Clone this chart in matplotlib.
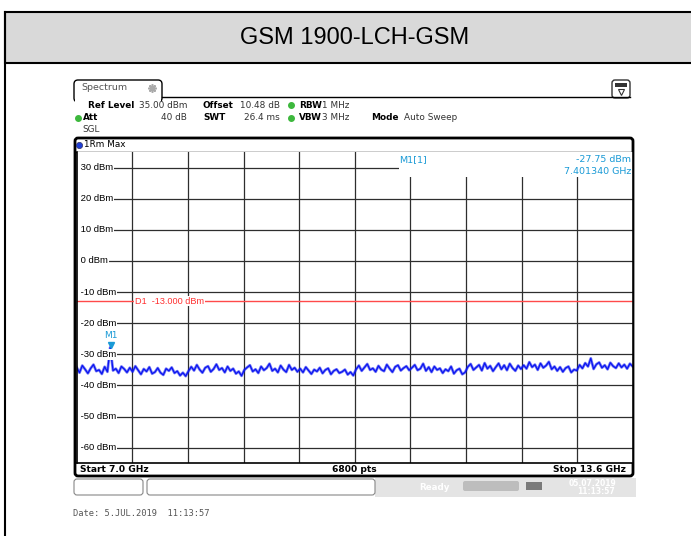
import numpy as np
import matplotlib.pyplot as plt
from matplotlib.patches import Rectangle, FancyBboxPatch

# ---- data ----
title = "GSM 1900-LCH-GSM"
f_start, f_stop = 7.0, 13.6          # GHz
ref_level = 35.0                      # dBm (top of screen)
bottom_level = -65.0
y_ticks = [30, 20, 10, 0, -10, -20, -30, -40, -50, -60]
limit_d1 = -13.0
marker_freq = 7.401340
marker_level = -27.75

# max-hold trace, 200 readings across the 10 divisions
trace_div1 = [-34.2, -35.9, -33.6, -34.8, -36.1, -34.5, -33.3, -35.4, -35.0, -36.3,
              -34.0, -35.6, -27.75, -35.2, -34.6, -36.0, -33.9, -34.7, -35.8, -34.3]
trace_div2 = [-35.6, -33.8, -35.1, -36.4, -34.7, -35.5, -34.1, -36.2, -35.7, -34.4,
              -35.9, -36.6, -34.6, -35.3, -34.2, -36.0, -35.4, -36.8, -35.9, -37.0]
trace_div3 = [-35.4, -34.0, -35.2, -33.4, -34.9, -35.9, -34.3, -33.8, -35.6, -34.7,
              -33.2, -35.0, -34.4, -35.8, -33.9, -35.3, -34.6, -36.2, -35.5, -36.9]
trace_div4 = [-35.0, -34.2, -33.5, -35.5, -34.8, -36.0, -33.9, -35.1, -34.4, -33.0,
              -35.3, -34.6, -35.8, -33.6, -34.9, -35.7, -33.4, -35.0, -34.3, -35.6]
trace_div5 = [-34.6, -35.8, -34.1, -35.2, -36.3, -34.9, -35.5, -34.3, -36.1, -35.0,
              -34.5, -36.4, -35.3, -34.8, -36.0, -35.6, -34.9, -36.5, -35.7, -36.8]
trace_div6 = [-34.8, -33.6, -35.3, -34.2, -33.1, -35.0, -34.5, -35.6, -33.7, -34.9,
              -35.4, -33.3, -34.6, -35.7, -34.0, -33.5, -35.2, -34.4, -33.8, -35.1]
trace_div7 = [-34.3, -33.4, -35.1, -34.6, -33.0, -35.3, -34.1, -35.7, -33.9, -35.0,
              -34.5, -36.0, -34.8, -35.4, -33.9, -36.2, -35.1, -34.6, -36.4, -35.8]
trace_div8 = [-34.0, -33.1, -35.0, -34.2, -33.4, -35.2, -32.8, -34.6, -33.7, -35.4,
              -34.1, -32.9, -34.8, -33.5, -35.1, -33.0, -34.4, -35.3, -33.6, -34.7]
trace_div9 = [-33.5, -34.6, -32.5, -34.1, -33.3, -35.0, -32.9, -34.3, -33.6, -32.4,
              -34.8, -33.9, -35.3, -34.1, -35.6, -34.4, -33.9, -35.8, -34.9, -35.2]
trace_div10 = [-33.4, -34.5, -32.8, -33.9, -31.3, -34.7, -33.2, -32.6, -34.3, -33.5,
               -34.8, -32.7, -33.8, -34.4, -32.9, -34.2, -33.3, -34.6, -33.0, -33.9]

trace = np.array(trace_div1 + trace_div2 + trace_div3 + trace_div4 + trace_div5 +
                 trace_div6 + trace_div7 + trace_div8 + trace_div9 + trace_div10)
freqs = np.linspace(f_start, f_stop, len(trace))

W, H = 691, 536
BLUE_TXT = '#1a9ad6'
TRACE = '#0a14f0'

fig = plt.figure(figsize=(W / 100, H / 100), dpi=100)

# background canvas in pixel coordinates
bg = fig.add_axes([0, 0, 1, 1])
bg.set_xlim(0, W)
bg.set_ylim(H, 0)
bg.axis('off')

# title band
bg.add_patch(Rectangle((5, 12), W, 51, facecolor='#d9d9d9', edgecolor='black', lw=1.5))
bg.plot([5, 5], [12, H], color='black', lw=1.5)
bg.text(355, 38, title, ha='center', va='center', fontsize=17, family='Liberation Sans')

# spectrum tab + header line
bg.add_patch(FancyBboxPatch((74, 80), 88, 22, boxstyle='round,pad=0,rounding_size=4',
                            facecolor='white', edgecolor='black', lw=1))
bg.add_patch(Rectangle((75, 97), 86, 6, facecolor='white', edgecolor='none'))
bg.plot([162, 630], [97, 97], color='black', lw=1)
bg.text(81, 88, 'Spectrum', fontsize=6.8, color='#555555', va='center')
bg.plot([152], [88], marker=(8, 2, 0), ms=6, color='#aaaaaa', mew=1.2)
bg.add_patch(FancyBboxPatch((612, 80), 18, 18, boxstyle='round,pad=0,rounding_size=3',
                            facecolor='white', edgecolor='#333333', lw=1))
bg.add_patch(Rectangle((615, 83), 12, 4, facecolor='#333333', edgecolor='none'))
bg.plot([621], [92], marker='v', ms=5, mfc='white', mec='#333333', mew=0.8)

# setting rows
fs = 6.4
bold = dict(fontsize=fs, fontweight='bold', va='center')
norm = dict(fontsize=fs, va='center', color='#333333')
bg.text(88, 105, 'Ref Level', **bold)
bg.text(139, 105, '35.00 dBm', **norm)
bg.text(203, 105, 'Offset', **bold)
bg.text(240, 105, '10.48 dB', **norm)
bg.text(299, 105, 'RBW', **bold)
bg.text(322, 105, '1 MHz', **norm)
bg.text(83, 118, 'Att', **bold)
bg.text(187, 118, '40 dB', ha='right', **norm)
bg.text(203, 118, 'SWT', **bold)
bg.text(244, 118, '26.4 ms', **norm)
bg.text(299, 118, 'VBW', **bold)
bg.text(322, 118, '3 MHz', **norm)
bg.text(371, 118, 'Mode', **bold)
bg.text(404, 118, 'Auto Sweep', **norm)
bg.text(82, 130, 'SGL', **norm)
for dx, dy in [(291, 105), (78, 118), (291, 118)]:
    bg.plot([dx], [dy], 'o', ms=4, color='#3db83d')

# diagram frame
bg.add_patch(FancyBboxPatch((75, 138), 558, 338, boxstyle='round,pad=0,rounding_size=3',
                            facecolor='white', edgecolor='black', lw=2))
bg.plot([76, 632], [152, 152], color='black', lw=1)
bg.plot([79], [144.5], 'o', ms=4.5, color='#1f3fd6', mec='#333366', mew=0.5)
bg.text(84, 144.5, '1Rm Max', fontsize=6.4, va='center')
bg.text(80, 470, 'Start 7.0 GHz', fontsize=6.6, fontweight='bold', va='center')
bg.text(354, 470, '6800 pts', fontsize=6.6, fontweight='bold', va='center', ha='center')
bg.text(626, 470, 'Stop 13.6 GHz', fontsize=6.6, fontweight='bold', va='center', ha='right')

# status bar
bg.add_patch(Rectangle((375, 478), 261, 19, facecolor='#e4e4e4', edgecolor='none'))
bg.add_patch(FancyBboxPatch((74, 479), 69, 16, boxstyle='round,pad=0,rounding_size=3',
                            facecolor='white', edgecolor='#888888', lw=0.8))
bg.add_patch(FancyBboxPatch((147, 479), 228, 16, boxstyle='round,pad=0,rounding_size=3',
                            facecolor='white', edgecolor='#888888', lw=0.8))
bg.text(419, 487, 'Ready', fontsize=6.3, color='white', fontweight='bold', va='center')
bg.add_patch(FancyBboxPatch((463, 481), 56, 10, boxstyle='round,pad=0,rounding_size=2',
                            facecolor='#bdbdbd', edgecolor='none'))
bg.add_patch(Rectangle((526, 482), 16, 8, facecolor='#7a7a7a', edgecolor='none'))
bg.text(593, 483, '05.07.2019', fontsize=5.5, color='white', fontweight='bold',
        va='center', ha='center')
bg.text(596, 491, '11:13:57', fontsize=5.5, color='white', fontweight='bold',
        va='center', ha='center')

bg.text(73, 514, 'Date: 5.JUL.2019  11:13:57', fontsize=6.3, family='DejaVu Sans Mono',
        color='#555555', va='center')

# ---- diagram ----
ax = fig.add_axes([76.7 / W, 1 - 463.3 / H, 556 / W, 311.3 / H])
ax.set_xlim(f_start, f_stop)
ax.set_ylim(bottom_level, ref_level)
ax.set_xticks(np.linspace(f_start, f_stop, 11)[1:-1])
ax.set_yticks(y_ticks)
ax.tick_params(length=0, labelbottom=False, labelleft=False)
ax.grid(True, color='#2e2e2e', lw=0.9)
ax.spines['top'].set_visible(False)
for s in ['left', 'right', 'bottom']:
    ax.spines[s].set_linewidth(1.2)
    ax.spines[s].set_zorder(6)

for v in y_ticks:
    ax.text(0.002, v, f' {v} dBm', transform=ax.get_yaxis_transform(), fontsize=6.8,
            family='Liberation Sans', va='center', ha='left', zorder=4,
            bbox=dict(facecolor='white', edgecolor='none', pad=0.8))

# display line D1
ax.axhline(limit_d1, color='#ff4a4a', lw=1, zorder=3)
ax.text(7.69, limit_d1, f'D1  {limit_d1:.3f} dBm', color='#ff3030', fontsize=6.6,
        family='Liberation Sans', va='center', zorder=4,
        bbox=dict(facecolor='white', edgecolor='none', pad=0.4))

# marker info box
ax.add_patch(Rectangle((7.0 + (399 - 76.7) / 556 * 6.6, ref_level - 25 / 3.113),
                       6.6, 25 / 3.113 + 1, facecolor='white', edgecolor='none', zorder=2.5))
ax.text(0.58, 0.975, 'M1[1]', transform=ax.transAxes, color=BLUE_TXT, fontsize=6.8,
        va='center', zorder=4)
ax.text(0.997, 0.975, f'{marker_level:.2f} dBm', transform=ax.transAxes, color=BLUE_TXT,
        fontsize=6.8, va='center', ha='right', zorder=4)
ax.text(0.997, 0.937, f'{marker_freq:.6f} GHz', transform=ax.transAxes, color=BLUE_TXT,
        fontsize=6.8, va='center', ha='right', zorder=4)

# thick pass gives the dense noise band, thin pass keeps the spikes
ax.plot(freqs, trace, color=TRACE, lw=2.0, alpha=0.55, zorder=3)
ax.plot(freqs, trace, color=TRACE, lw=0.9, zorder=3)
ax.plot([marker_freq], [marker_level + 0.8], marker='v', ms=5, color=BLUE_TXT, zorder=4)
ax.annotate('M1', (marker_freq, marker_level), xytext=(0, 8.5), textcoords='offset points',
            ha='center', va='center', color=BLUE_TXT, fontsize=6.5, zorder=4)

fig.savefig('out.png', dpi=100)
